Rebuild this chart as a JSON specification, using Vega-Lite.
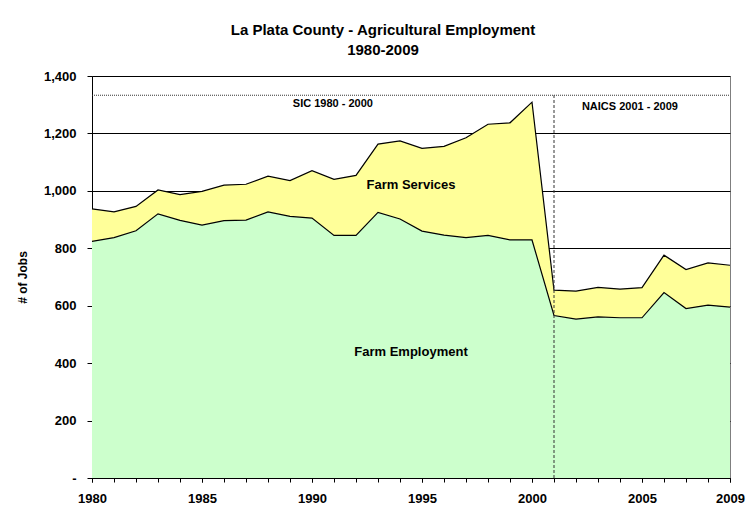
{
  "$schema": "https://vega.github.io/schema/vega-lite/v6.json",
  "width": 638,
  "height": 402,
  "autosize": {"type": "none"},
  "padding": {"left": 92, "top": 76, "right": 20, "bottom": 38},
  "background": "white",
  "title": {
    "text": ["La Plata County - Agricultural Employment", "1980-2009"],
    "font": "Liberation Sans",
    "fontSize": 15,
    "fontWeight": "bold",
    "color": "black",
    "anchor": "middle",
    "dx": -28,
    "offset": 12,
    "lineHeight": 20
  },
  "config": {
    "view": {"stroke": "#7f7f7f", "strokeWidth": 1},
    "font": "Liberation Sans"
  },
  "datasets": {
    "emp": [
      {"year": 1980, "farm": 824, "total": 937},
      {"year": 1981, "farm": 837, "total": 927},
      {"year": 1982, "farm": 861, "total": 946},
      {"year": 1983, "farm": 920, "total": 1003},
      {"year": 1984, "farm": 897, "total": 987},
      {"year": 1985, "farm": 881, "total": 998},
      {"year": 1986, "farm": 896, "total": 1020},
      {"year": 1987, "farm": 898, "total": 1023},
      {"year": 1988, "farm": 927, "total": 1051},
      {"year": 1989, "farm": 911, "total": 1036},
      {"year": 1990, "farm": 905, "total": 1070},
      {"year": 1991, "farm": 845, "total": 1040},
      {"year": 1992, "farm": 845, "total": 1054},
      {"year": 1993, "farm": 925, "total": 1163},
      {"year": 1994, "farm": 902, "total": 1174},
      {"year": 1995, "farm": 860, "total": 1148},
      {"year": 1996, "farm": 846, "total": 1155},
      {"year": 1997, "farm": 837, "total": 1185},
      {"year": 1998, "farm": 845, "total": 1232},
      {"year": 1999, "farm": 829, "total": 1237},
      {"year": 2000, "farm": 829, "total": 1309},
      {"year": 2001, "farm": 566, "total": 654},
      {"year": 2002, "farm": 553, "total": 651},
      {"year": 2003, "farm": 561, "total": 664},
      {"year": 2004, "farm": 558, "total": 658},
      {"year": 2005, "farm": 558, "total": 663},
      {"year": 2006, "farm": 646, "total": 776},
      {"year": 2007, "farm": 590, "total": 726},
      {"year": 2008, "farm": 602, "total": 749},
      {"year": 2009, "farm": 595, "total": 741}
    ],
    "hrule": [{"year": 1980, "year2": 2009, "jobs": 1333}],
    "vrule": [{"year": 2001, "jobs": 0, "jobs2": 1333}],
    "areaLabels": [
      {"label": "Farm Services", "year": 1994.5, "jobs": 1021},
      {"label": "Farm Employment", "year": 1994.5, "jobs": 440}
    ],
    "eraLabels": [
      {"label": "SIC 1980 - 2000", "year": 1990.95, "jobs": 1301},
      {"label": "NAICS 2001 - 2009", "year": 2004.45, "jobs": 1291}
    ]
  },
  "resolve": {"axis": {"x": "independent"}},
  "layer": [
    {
      "data": {"name": "emp"},
      "mark": {"type": "area", "color": "#FFFF99"},
      "encoding": {
        "x": {
          "field": "year", "type": "quantitative",
          "scale": {"domain": [1980, 2009], "nice": false, "zero": false},
          "axis": {
            "orient": "bottom",
            "title": null,
            "values": [1980, 1985, 1990, 1995, 2000, 2005, 2009],
            "format": "d",
            "grid": false,
            "tickSize": 4,
            "tickColor": "black",
            "domainColor": "black",
            "labelColor": "black",
            "labelFont": "Liberation Sans",
            "labelFontSize": 13,
            "labelFontWeight": "bold",
            "labelPadding": 10,
            "labelFlush": false,
            "labelOverlap": false
          }
        },
        "y": {
          "field": "total", "type": "quantitative",
          "scale": {"domain": [0, 1400], "nice": false},
          "axis": {
            "title": "# of Jobs",
            "titleFont": "Liberation Sans",
            "titleFontSize": 12,
            "titleFontWeight": "bold",
            "titleColor": "black",
            "titlePadding": 14,
            "values": [0, 200, 400, 600, 800, 1000, 1200, 1400],
            "labelExpr": "datum.value == 0 ? '-' : format(datum.value, ',')",
            "grid": true,
            "gridColor": "black",
            "gridWidth": 1,
            "gridOpacity": 1,
            "tickSize": 5,
            "tickColor": "black",
            "domainColor": "black",
            "labelColor": "black",
            "labelFont": "Liberation Sans",
            "labelFontSize": 13,
            "labelFontWeight": "bold",
            "labelPadding": 11
          }
        },
        "y2": {"field": "farm"}
      }
    },
    {
      "data": {"name": "emp"},
      "mark": {"type": "area", "color": "#CCFFCC"},
      "encoding": {
        "x": {
          "field": "year", "type": "quantitative",
          "axis": {
            "orient": "bottom",
            "title": null,
            "values": [1980,1981,1982,1983,1984,1985,1986,1987,1988,1989,1990,1991,1992,1993,1994,1995,1996,1997,1998,1999,2000,2001,2002,2003,2004,2005,2006,2007,2008,2009],
            "labels": false,
            "domain": false,
            "grid": false,
            "tickSize": 4,
            "tickColor": "black"
          }
        },
        "y": {"field": "farm", "type": "quantitative"}
      }
    },
    {
      "data": {"name": "emp"},
      "mark": {"type": "line", "color": "black", "strokeWidth": 1.2},
      "encoding": {
        "x": {"field": "year", "type": "quantitative", "axis": null},
        "y": {"field": "total", "type": "quantitative"}
      }
    },
    {
      "data": {"name": "emp"},
      "mark": {"type": "line", "color": "black", "strokeWidth": 1.2},
      "encoding": {
        "x": {"field": "year", "type": "quantitative", "axis": null},
        "y": {"field": "farm", "type": "quantitative"}
      }
    },
    {
      "data": {"name": "hrule"},
      "mark": {"type": "rule", "color": "#333333", "strokeWidth": 1, "strokeDash": [1, 1]},
      "encoding": {
        "x": {"field": "year", "type": "quantitative", "axis": null},
        "x2": {"field": "year2"},
        "y": {"field": "jobs", "type": "quantitative"}
      }
    },
    {
      "data": {"name": "vrule"},
      "mark": {"type": "rule", "color": "#333333", "strokeWidth": 1, "strokeDash": [3, 2]},
      "encoding": {
        "x": {"field": "year", "type": "quantitative", "axis": null},
        "y": {"field": "jobs", "type": "quantitative"},
        "y2": {"field": "jobs2"}
      }
    },
    {
      "data": {"name": "areaLabels"},
      "mark": {"type": "text", "font": "Liberation Sans", "fontSize": 13, "fontWeight": "bold", "color": "black", "align": "center", "baseline": "middle"},
      "encoding": {
        "x": {"field": "year", "type": "quantitative", "axis": null},
        "y": {"field": "jobs", "type": "quantitative"},
        "text": {"field": "label"}
      }
    },
    {
      "data": {"name": "eraLabels"},
      "mark": {"type": "text", "font": "Liberation Sans", "fontSize": 11, "fontWeight": "bold", "color": "black", "align": "center", "baseline": "middle"},
      "encoding": {
        "x": {"field": "year", "type": "quantitative", "axis": null},
        "y": {"field": "jobs", "type": "quantitative"},
        "text": {"field": "label"}
      }
    }
  ]
}
